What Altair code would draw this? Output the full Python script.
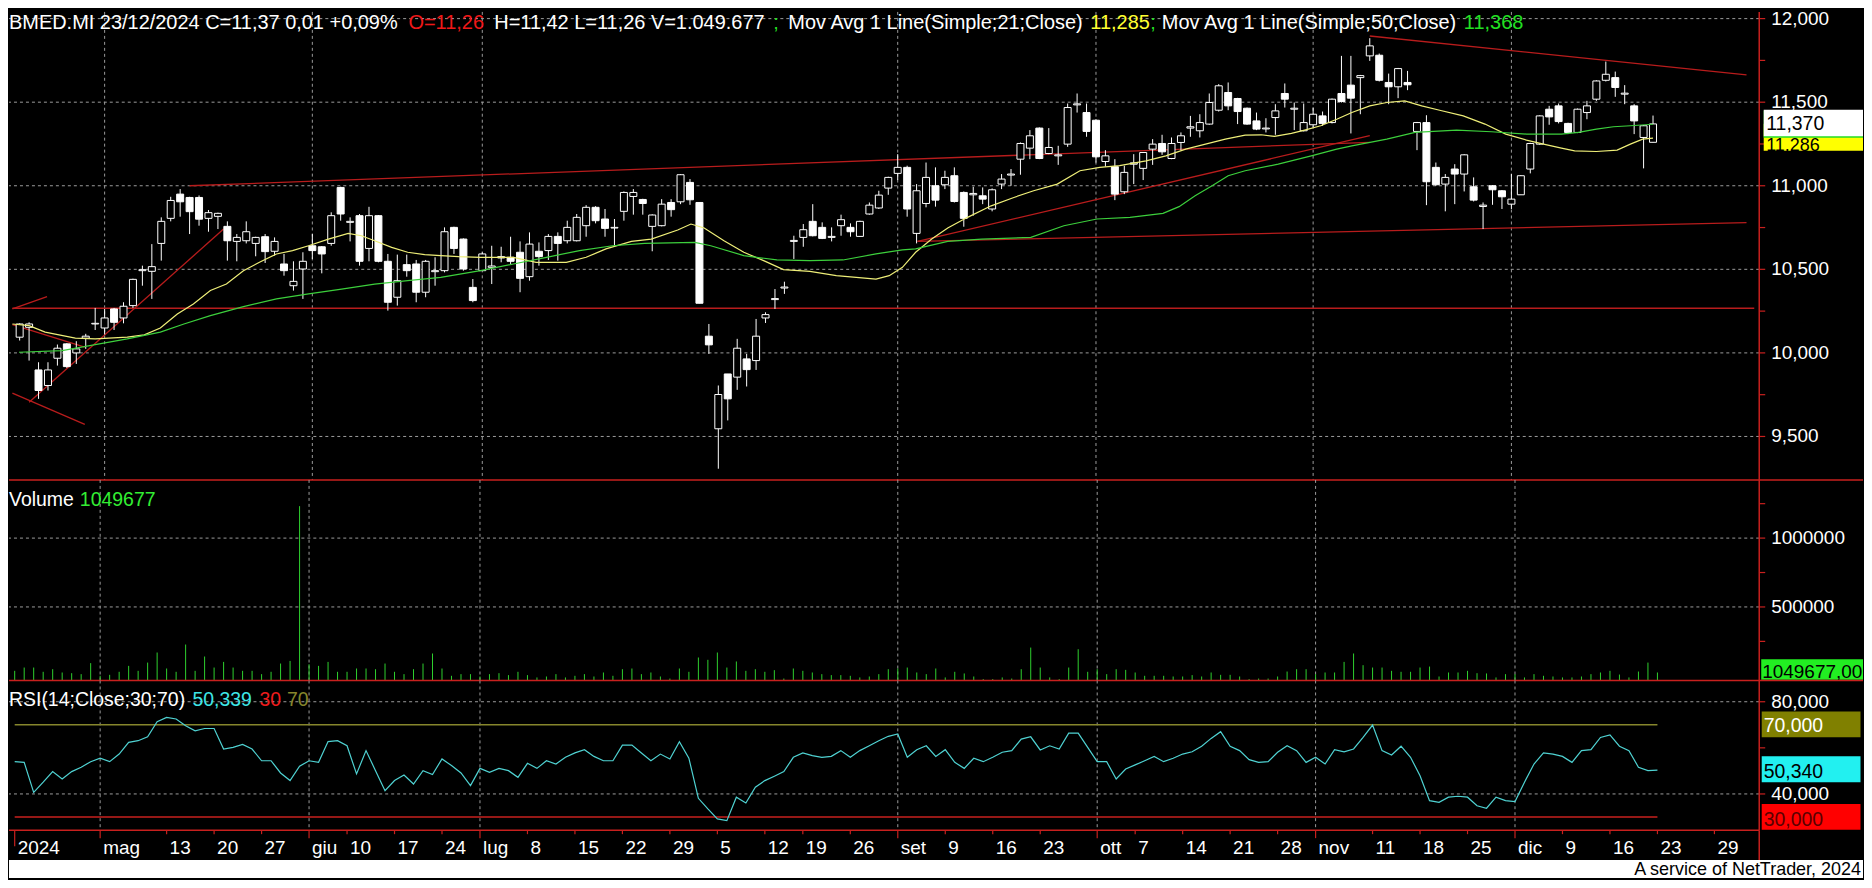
import altair as alt
import pandas as pd

# ---------------- data ----------------
opens = [10.094, 10.153, 9.898, 9.805, 9.968, 10.054, 10.0, 10.088, 10.173, 10.149,
         10.263, 10.209, 10.283, 10.492, 10.488, 10.655, 10.805, 10.95, 10.93, 10.93,
         10.805, 10.817, 10.757, 10.667, 10.671, 10.655, 10.695, 10.608, 10.532, 10.402,
         10.502, 10.641, 10.635, 10.655, 10.99, 10.781, 10.821, 10.625, 10.821, 10.548,
         10.333, 10.528, 10.532, 10.363, 10.486, 10.492, 10.751, 10.681, 10.392, 10.492,
         10.512, 10.568, 10.572, 10.602, 10.456, 10.608, 10.612, 10.697, 10.671, 10.671,
         10.761, 10.871, 10.801, 10.747, 10.847, 10.936, 10.918, 10.757, 10.761, 10.90,
         10.904, 11.02, 10.90, 10.10, 9.546, 9.874, 9.855, 9.964, 9.954, 10.209,
         10.319, 10.388, 10.667, 10.691, 10.787, 10.751, 10.691, 10.761, 10.751, 10.697,
         10.831, 10.867, 10.986, 11.074, 11.11, 10.715, 10.894, 11.0, 11.006, 11.06,
         10.96, 10.946, 10.94, 10.861, 11.01, 11.064, 11.159, 11.225, 11.345, 11.193,
         11.179, 11.249, 11.484, 11.438, 11.392, 11.145, 11.114, 10.964, 11.129, 11.104,
         11.219, 11.253, 11.163, 11.259, 11.345, 11.329, 11.369, 11.452, 11.558, 11.522,
         11.464, 11.388, 11.34, 11.408, 11.552, 11.458, 11.329, 11.365, 11.418, 11.378,
         11.552, 11.602, 11.647, 11.777, 11.781, 11.618, 11.592, 11.618, 11.325, 11.378,
         11.11, 11.01, 11.10, 11.07, 10.994, 10.876, 11.0, 10.97, 10.89, 10.946,
         11.10, 11.249, 11.458, 11.478, 11.373, 11.319, 11.438, 11.518, 11.631, 11.647,
         11.548, 11.478, 11.289, 11.26]
highs = [10.177, 10.183, 9.944, 9.944, 10.05, 10.058, 10.07, 10.114, 10.269, 10.263,
         10.269, 10.303, 10.444, 10.522, 10.651, 10.811, 10.934, 10.98, 10.934, 10.942,
         10.855, 10.839, 10.787, 10.711, 10.787, 10.695, 10.711, 10.691, 10.592, 10.548,
         10.602, 10.711, 10.639, 10.841, 10.994, 10.811, 10.831, 10.874, 10.825, 10.592,
         10.588, 10.588, 10.556, 10.556, 10.572, 10.751, 10.755, 10.685, 10.442, 10.602,
         10.641, 10.635, 10.695, 10.667, 10.721, 10.661, 10.711, 10.721, 10.791, 10.831,
         10.884, 10.878, 10.861, 10.801, 10.966, 10.98, 10.922, 10.829, 10.92, 10.92,
         11.07, 11.04, 10.90, 10.173, 9.805, 9.874, 10.084, 9.994, 10.203, 10.243,
         10.382, 10.426, 10.701, 10.771, 10.89, 10.781, 10.751, 10.827, 10.775, 10.791,
         10.90, 10.97, 11.054, 11.189, 11.12, 11.01, 11.139, 11.11, 11.09, 11.11,
         10.966, 10.994, 10.99, 10.984, 11.07, 11.10, 11.259, 11.333, 11.349, 11.345,
         11.239, 11.492, 11.552, 11.492, 11.398, 11.213, 11.159, 11.12, 11.189, 11.199,
         11.279, 11.305, 11.289, 11.319, 11.418, 11.428, 11.552, 11.608, 11.618, 11.526,
         11.468, 11.438, 11.404, 11.488, 11.612, 11.498, 11.492, 11.468, 11.444, 11.522,
         11.777, 11.777, 11.663, 11.883, 11.791, 11.671, 11.705, 11.687, 11.382, 11.422,
         11.139, 11.07, 11.129, 11.189, 11.05, 10.90, 11.004, 10.974, 11.07, 11.064,
         11.257, 11.422, 11.478, 11.492, 11.377, 11.462, 11.508, 11.631, 11.743, 11.683,
         11.602, 11.488, 11.363, 11.42]
lows = [10.074, 9.954, 9.725, 9.775, 9.924, 9.910, 9.934, 10.024, 10.137, 10.11,
        10.137, 10.177, 10.269, 10.402, 10.323, 10.552, 10.787, 10.815, 10.711, 10.761,
        10.725, 10.741, 10.552, 10.548, 10.655, 10.578, 10.538, 10.582, 10.462, 10.373,
        10.323, 10.562, 10.476, 10.641, 10.791, 10.667, 10.522, 10.548, 10.542, 10.253,
        10.283, 10.456, 10.303, 10.333, 10.402, 10.482, 10.592, 10.492, 10.303, 10.492,
        10.412, 10.542, 10.532, 10.363, 10.432, 10.522, 10.556, 10.552, 10.655, 10.667,
        10.695, 10.775, 10.695, 10.641, 10.791, 10.827, 10.827, 10.608, 10.757, 10.815,
        10.89, 10.886, 10.297, 9.994, 9.307, 9.596, 9.779, 9.799, 9.898, 10.179,
        10.263, 10.353, 10.562, 10.635, 10.697, 10.681, 10.667, 10.701, 10.695, 10.695,
        10.827, 10.861, 10.946, 11.034, 10.815, 10.655, 10.871, 10.875, 10.98, 10.90,
        10.755, 10.821, 10.89, 10.847, 10.98, 11.0, 11.066, 11.159, 11.159, 11.189,
        11.125, 11.233, 11.438, 11.293, 11.139, 11.114, 10.914, 10.95, 11.01, 11.034,
        11.125, 11.185, 11.159, 11.213, 11.293, 11.289, 11.365, 11.444, 11.452, 11.369,
        11.365, 11.333, 11.319, 11.305, 11.468, 11.333, 11.325, 11.349, 11.359, 11.373,
        11.498, 11.313, 11.428, 11.747, 11.624, 11.488, 11.524, 11.572, 11.213, 10.884,
        11.0, 10.847, 10.89, 10.966, 10.906, 10.741, 10.886, 10.861, 10.861, 10.946,
        11.074, 11.245, 11.365, 11.373, 11.309, 11.315, 11.398, 11.508, 11.624, 11.532,
        11.488, 11.309, 11.104, 11.26]
closes = [10.173, 10.173, 9.775, 9.898, 10.028, 9.918, 10.024, 10.10, 10.177, 10.209,
          10.183, 10.279, 10.44, 10.498, 10.516, 10.787, 10.912, 10.904, 10.845, 10.80,
          10.839, 10.835, 10.671, 10.691, 10.725, 10.691, 10.606, 10.667, 10.492, 10.428,
          10.548, 10.612, 10.592, 10.821, 10.831, 10.787, 10.548, 10.821, 10.548, 10.303,
          10.432, 10.492, 10.363, 10.548, 10.492, 10.725, 10.625, 10.502, 10.313, 10.592,
          10.52, 10.576, 10.548, 10.446, 10.651, 10.576, 10.697, 10.655, 10.751, 10.811,
          10.871, 10.791, 10.745, 10.751, 10.96, 10.96, 10.894, 10.825, 10.89, 10.857,
          11.066, 10.916, 10.297, 10.048, 9.751, 9.725, 10.028, 9.90, 10.10, 10.229,
          10.325, 10.394, 10.673, 10.737, 10.701, 10.685, 10.697, 10.797, 10.725, 10.787,
          10.884, 10.944, 11.05, 11.11, 10.861, 10.97, 11.05, 10.914, 11.05, 10.906,
          10.805, 10.954, 10.92, 10.976, 11.04, 11.07, 11.253, 11.299, 11.163, 11.229,
          11.185, 11.468, 11.49, 11.325, 11.173, 11.179, 10.95, 11.08, 11.137, 11.199,
          11.249, 11.203, 11.253, 11.299, 11.353, 11.378, 11.498, 11.598, 11.478, 11.444,
          11.369, 11.339, 11.345, 11.448, 11.518, 11.464, 11.378, 11.428, 11.373, 11.518,
          11.504, 11.524, 11.659, 11.837, 11.631, 11.592, 11.701, 11.604, 11.378, 11.024,
          11.006, 11.05, 11.07, 11.185, 10.914, 10.884, 10.976, 10.934, 10.92, 11.06,
          11.253, 11.418, 11.412, 11.384, 11.319, 11.458, 11.478, 11.627, 11.667, 11.588,
          11.554, 11.388, 11.359, 11.37]
# volume as read on the drawn volume axis (thousands)
volumes_k = [36, 60, 60, 29, 48, 24, 19, 12, 92, 0,
             7, 29, 72, 36, 96, 169, 53, 29, 227, 36,
             140, 60, 101, 60, 36, 36, 12, 29, 89, 108,
             1232, 84, 72, 101, 29, 29, 53, 53, 48, 89,
             29, 12, 48, 89, 162, 53, 0, 12, 12, -5,
             12, 19, 5, 29, 5, -12, -5, 12, -12, 0,
             12, -5, 24, 0, 48, 53, 12, 24, -5, -20,
             53, 29, 133, 116, 169, 60, 104, 36, 48, 29,
             41, -20, 53, 36, 24, 12, 5, 5, 0, -12,
             -5, 12, 48, 53, 60, 24, 12, 53, -12, 29,
             17, -5, -24, -24, -12, -20, 48, 205, 60, -12,
             -24, 60, 193, 29, 48, 12, 48, 43, 24, 0,
             0, 0, -5, -5, 5, -5, 24, 7, 7, -5,
             -24, -20, -20, -5, 31, 48, 48, 12, 24, 24,
             101, 162, 77, 60, 60, 36, 29, 29, 60, 67,
             -5, 24, 24, 36, 19, 17, -12, 12, 12, -12,
             12, 0, -5, -12, -12, -5, 12, 24, 36, 9,
             -12, 31, 96, 24]
rsi_values = [54.0, 53.7, 40.7, 45.1, 49.7, 46.5, 49.7, 51.6, 54.0, 55.5,
              54.0, 57.3, 62.4, 63.1, 64.8, 71.3, 73.2, 72.5, 69.6, 67.4,
              68.4, 68.4, 59.5, 60.2, 61.5, 59.5, 54.4, 54.4, 49.1, 45.8,
              52.0, 54.4, 53.7, 62.7, 63.1, 60.9, 48.7, 58.8, 50.1, 41.4,
              45.8, 48.2, 44.3, 50.1, 48.4, 55.2, 52.3, 49.1, 43.6, 51.1,
              49.4, 51.1, 50.1, 47.2, 53.3, 51.1, 54.4, 53.0, 55.9, 57.8,
              59.2, 56.3, 54.4, 54.4, 61.2, 61.2, 57.8, 54.4, 57.3, 55.2,
              62.7, 55.5, 38.1, 33.5, 29.2, 28.4, 38.6, 36.1, 42.9, 45.8,
              47.7, 49.7, 55.9, 57.8, 56.6, 55.9, 56.3, 58.8, 55.9, 58.8,
              60.9, 63.1, 65.0, 66.0, 55.9, 59.2, 60.9, 56.3, 59.2, 53.7,
              51.1, 55.5, 54.0, 55.9, 58.1, 58.8, 63.8, 64.8, 59.1, 60.9,
              59.5, 66.4, 66.4, 60.2, 54.0, 54.0, 46.5, 50.8, 52.6, 54.4,
              56.3, 54.0, 55.5, 57.3, 58.3, 60.7, 64.1, 67.0, 60.7, 58.8,
              54.9, 53.7, 54.0, 58.1, 60.9, 58.8, 53.7, 55.9, 53.0, 59.2,
              58.3, 59.5, 64.5, 69.9, 58.8, 56.9, 60.7, 55.9, 47.9, 37.1,
              36.4, 38.6, 39.0, 38.6, 34.9, 33.8, 38.6, 37.1, 36.7, 45.1,
              53.0, 57.8, 57.3, 56.3, 53.7, 58.8, 59.2, 64.5, 65.6, 60.7,
              58.8, 51.6, 50.1, 50.3]

ma21_idx = [-0.77, 1.0, 2.7, 5.9, 8.0, 11.4, 13.2, 14.9, 16.7, 18.4, 20.2, 21.9, 23.7, 25.4,
            27.2, 28.9, 30.6, 32.7, 34.8, 36.2, 37.6, 39.4, 41.1, 42.9, 44.6, 46.5, 48.8,
            52.3, 54.7, 57.9, 60.0, 62.1, 64.8, 66.9, 69.7, 71.1, 72.5, 74.6, 76.7, 78.8,
            80.9, 83.7, 86.5, 90.7, 92.1, 93.5, 94.9, 96.6, 98.3, 100.4, 102.9, 105.3, 107.4,
            109.9, 112.3, 114.4, 116.5, 119.3, 121.4, 123.5, 125.6, 127.7, 129.8, 131.5,
            132.9, 134.7, 136.1, 137.8, 139.5, 141.1, 143.0, 144.8, 146.7, 148.5, 150.4,
            152.9, 155.2, 157.4, 159.6, 161.4, 163.3, 164.7, 167.0, 169.2, 170.6, 171.9, 173.0]
ma21_val = [10.173, 10.163, 10.124, 10.088, 10.084, 10.094, 10.108, 10.149, 10.233, 10.293,
            10.373, 10.412, 10.492, 10.542, 10.592, 10.612, 10.641, 10.681, 10.715, 10.701,
            10.671, 10.631, 10.602, 10.588, 10.582, 10.576, 10.572, 10.572, 10.542, 10.542,
            10.572, 10.622, 10.667, 10.681, 10.735, 10.771, 10.747, 10.671, 10.602, 10.552,
            10.498, 10.488, 10.462, 10.442, 10.462, 10.512, 10.602, 10.681, 10.747, 10.811,
            10.88, 10.93, 10.97, 11.01, 11.09, 11.11, 11.12, 11.149, 11.179, 11.219,
            11.249, 11.279, 11.303, 11.305, 11.295, 11.313, 11.333, 11.359, 11.398, 11.438,
            11.478, 11.498, 11.508, 11.478, 11.452, 11.418, 11.369, 11.309, 11.273, 11.249,
            11.225, 11.209, 11.205, 11.213, 11.249, 11.279, 11.285]
ma50_idx = [-0.07, 4.5, 8.0, 11.4, 14.9, 17.4, 20.2, 23.7, 27.2, 30.6, 34.1, 37.6, 41.1, 44.6,
            48.8, 52.3, 55.8, 59.3, 62.8, 66.2, 71.5, 73.2, 76.7, 80.2, 83.7, 87.2, 90.7,
            93.5, 94.9, 98.3, 101.9, 107.1, 110.6, 114.1, 117.6, 121.1, 122.8, 124.5, 126.3,
            128.0, 129.8, 133.3, 136.8, 139.5, 141.1, 144.8, 147.8, 152.2, 155.9, 159.6,
            163.3, 165.1, 167.0, 168.8, 170.6, 173.0]
ma50_val = [10.004, 10.014, 10.05, 10.084, 10.124, 10.173, 10.223, 10.277, 10.323, 10.353,
            10.382, 10.412, 10.432, 10.452, 10.492, 10.532, 10.572, 10.612, 10.641, 10.655,
            10.661, 10.641, 10.582, 10.556, 10.552, 10.556, 10.592, 10.616, 10.622, 10.667,
            10.681, 10.691, 10.761, 10.801, 10.811, 10.835, 10.875, 10.94, 11.0, 11.06,
            11.09, 11.129, 11.179, 11.219, 11.239, 11.279, 11.319, 11.333, 11.323, 11.309,
            11.309, 11.319, 11.339, 11.353, 11.359, 11.368]

# hand-drawn trend lines (bar index, price)
trend_x1 = [18.0, 95.1, 95.1, 143.0, -0.77, -0.77, -0.77, 1.0, -0.77]
trend_y1 = [11.0, 10.667, 10.667, 11.896, 10.263, 9.759, 10.169, 9.705, 10.267]
trend_x2 = [143.0, 143.0, 182.9, 182.9, 2.9, 6.9, 6.9, 21.6, 183.72]
trend_y2 = [11.26, 11.30, 10.78, 11.663, 10.337, 9.572, 10.034, 10.741, 10.267]

month_idx = [9, 31, 49, 93, 114, 137, 158]
tick_idx = [0, 9, 16, 21, 26, 31, 35, 40, 45, 49, 54, 59, 64, 69, 74, 79, 83, 88, 93, 98,
            103, 108, 114, 118, 123, 128, 133, 137, 143, 148, 153, 158, 163, 168, 173, 179]
tick_labels = ["2024", "mag", "13", "20", "27", "giu", "10", "17", "24", "lug", "8", "15",
               "22", "29", "5", "12", "19", "26", "set", "9", "16", "23", "ott", "7", "14",
               "21", "28", "nov", "11", "18", "25", "dic", "9", "16", "23", "29"]
tick_kind = ["year", "month", "week", "week", "week", "month", "week", "week", "week",
             "month", "week", "week", "week", "week", "week", "week", "week", "week",
             "month", "week", "week", "week", "month", "week", "week", "week", "week",
             "month", "week", "week", "week", "month", "week", "week", "week", "week"]

price_grid = [9.5, 10.0, 10.5, 11.0, 11.5, 12.0]
price_grid_labels = ["9,500", "10,000", "10,500", "11,000", "11,500", "12,000"]
price_ticks = [9.5, 9.75, 10.0, 10.25, 10.5, 10.75, 11.0, 11.25, 11.5, 11.75, 12.0]
vol_grid = [500000, 1000000]
vol_grid_labels = ["500000", "1000000"]
vol_ticks = [250000, 500000, 750000, 1000000, 1250000]
rsi_grid = [40, 80]
rsi_grid_labels = ["40,000", "80,000"]
rsi_ticks = [40, 60, 80]
rsi_level_names = ["overbought", "oversold"]
rsi_levels = [70, 30]
rsi_level_from = [0, 0]
rsi_level_to = [173, 173]

# ---------------- styling ----------------
FONT = "Liberation Sans, Arial, Helvetica, sans-serif"
RED = "#c8201e"
TREND = "#b81c1c"
GRID = "#9c9c9c"
OLIVE = "#86862c"
W, H1, H2, H3 = 1754, 469, 201, 150
RIGHT = 1858

xs = alt.Scale(domain=[-0.6, 183.72], nice=False, zero=False)
ps = alt.Scale(domain=[9.24, 12.04], nice=False, zero=False)
vs = alt.Scale(domain=[-34058, 1422464], nice=False, zero=False)
rs = alt.Scale(domain=[24.29, 89.22], nice=False, zero=False)

one = pd.DataFrame({"k": [0]})


def txt(s, x, y, color, size=20, align="left", baseline="alphabetic"):
    return alt.Chart(pd.DataFrame({"t": [s]})).mark_text(
        align=align, baseline=baseline, font=FONT, fontSize=size, color=color
    ).encode(text="t:N", x=alt.value(x), y=alt.value(y))


def box(x1, x2, y1, y2, color):
    return alt.Chart(one).mark_rect(color=color).encode(
        x=alt.value(x1), x2=alt.value(x2), y=alt.value(y1), y2=alt.value(y2))


def hrule_px(y, x1=0, x2=RIGHT, color=RED, w=1.5):
    return alt.Chart(one).mark_rule(color=color, strokeWidth=w).encode(
        x=alt.value(x1), x2=alt.value(x2), y=alt.value(y))


def vgrid():
    return alt.Chart(pd.DataFrame({"m": month_idx})).mark_rule(
        color=GRID, strokeDash=[3, 3], strokeWidth=1
    ).encode(x=alt.X("m:Q", scale=xs, axis=None))


def right_axis(scale, height, grid_vals, grid_labels, tick_vals):
    """horizontal dashed grid, red axis line, red ticks and white labels at the right"""
    g = pd.DataFrame({"v": grid_vals, "lab": grid_labels})
    t = pd.DataFrame({"v": tick_vals})
    grid = alt.Chart(g).mark_rule(color=GRID, strokeDash=[3, 3], strokeWidth=1).encode(
        y=alt.Y("v:Q", scale=scale, axis=None))
    dom = alt.Chart(one).mark_rule(color=RED, strokeWidth=1.5).encode(
        x=alt.value(W), y=alt.value(0), y2=alt.value(height))
    tk = alt.Chart(t).mark_rule(color=RED, strokeWidth=1.2).encode(
        x=alt.value(W), x2=alt.value(W + 6), y=alt.Y("v:Q", scale=scale, axis=None))
    lab = alt.Chart(g).mark_text(align="left", baseline="middle", font=FONT, fontSize=19,
                                 color="#ffffff").encode(
        x=alt.value(W + 12), y=alt.Y("v:Q", scale=scale, axis=None), text="lab:N")
    return [grid, dom, tk, lab]


# ---------------- price panel ----------------
cdf = pd.DataFrame({"idx": list(range(len(opens))), "open": opens, "high": highs,
                    "low": lows, "close": closes})
tdf = pd.DataFrame({"x1": trend_x1, "y1": trend_y1, "x2": trend_x2, "y2": trend_y2})
m21 = pd.DataFrame({"i": ma21_idx, "v": ma21_val})
m50 = pd.DataFrame({"i": ma50_idx, "v": ma50_val})

trends = alt.Chart(tdf).mark_rule(color=TREND, strokeWidth=1.3, clip=True).encode(
    x=alt.X("x1:Q", scale=xs, axis=None), x2="x2:Q",
    y=alt.Y("y1:Q", scale=ps, axis=None), y2="y2:Q")

wicks = alt.Chart(cdf).mark_rule(color="#ffffff", strokeWidth=1).encode(
    x=alt.X("idx:Q", scale=xs, axis=None),
    y=alt.Y("low:Q", scale=ps, axis=None), y2="high:Q")

bodies = alt.Chart(cdf).mark_bar(width=7, stroke="#ffffff", strokeWidth=1, orient="vertical").encode(
    x=alt.X("idx:Q", scale=xs, axis=None),
    y=alt.Y("open:Q", scale=ps, axis=None), y2="close:Q",
    fill=alt.condition("datum.close > datum.open", alt.value("#000000"), alt.value("#ffffff")))

ma21 = alt.Chart(m21).mark_line(color="#eeee78", strokeWidth=1.2, clip=True).encode(
    x=alt.X("i:Q", scale=xs, axis=None), y=alt.Y("v:Q", scale=ps, axis=None))
ma50 = alt.Chart(m50).mark_line(color="#3ccf3c", strokeWidth=1.2, clip=True).encode(
    x=alt.X("i:Q", scale=xs, axis=None), y=alt.Y("v:Q", scale=ps, axis=None))

title_y = 17
titles = [
    txt("BMED.MI 23/12/2024 C=11,37 0,01 +0,09%", 0, title_y, "#ffffff"),
    txt("O=11,26", 400.3, title_y, "#f01818"),
    txt("H=11,42 L=11,26 V=1.049.677", 486.3, title_y, "#ffffff"),
    txt(";", 766, title_y, "#22dd22"),
    txt("Mov Avg 1 Line(Simple;21;Close)", 781, title_y, "#ffffff"),
    txt("11,285", 1083.7, title_y, "#ffff30"),
    txt(";", 1143.7, title_y, "#22dd22"),
    txt("Mov Avg 1 Line(Simple;50;Close)", 1155.3, title_y, "#ffffff"),
    txt("11,368", 1458, title_y, "#22e022"),
]

price_boxes = [
    box(1758.5, RIGHT, 112, 139, "#ffff00"),
    txt("11,286", 1761, 139, "#000000", size=18),
    box(1758.5, RIGHT, 99, 126, "#22dd22"),
    box(1758.5, RIGHT, 98, 124.7, "#ffffff"),
    txt("11,370", 1761, 118.7, "#000000", size=19.5),
]

price = alt.layer(*right_axis(ps, H1, price_grid, price_grid_labels, price_ticks), vgrid(),
                  trends, wicks, bodies, ma21, ma50, *titles, *price_boxes,
                  hrule_px(H1)).properties(width=W, height=H1)

# ---------------- volume panel ----------------
vdf = pd.DataFrame({"idx": list(range(len(volumes_k))), "vol": [v * 1000 for v in volumes_k]})
v_bars = alt.Chart(vdf).mark_rule(color="#2ed02e", strokeWidth=1).encode(
    x=alt.X("idx:Q", scale=xs, axis=None),
    y=alt.Y("vol:Q", scale=vs, axis=None), y2=alt.value(H2))

volume = alt.layer(
    *right_axis(vs, H2, vol_grid, vol_grid_labels, vol_ticks), vgrid(), v_bars,
    txt("Volume", 0, 26.3, "#ffffff", size=19.5),
    txt("1049677", 71, 26.3, "#33ee33", size=19.5),
    box(1756, RIGHT, 179.7, 200.3, "#22ee22"),
    txt("1049677,00", 1757, 199, "#000000", size=19),
    hrule_px(H2),
).properties(width=W, height=H2)

# ---------------- RSI panel ----------------
rdf = pd.DataFrame({"idx": list(range(len(rsi_values))), "rsi": rsi_values})
ldf = pd.DataFrame({"name": rsi_level_names, "level": rsi_levels,
                    "start": rsi_level_from, "end": rsi_level_to})
kdf = pd.DataFrame({"idx": tick_idx, "lab": tick_labels, "kind": tick_kind})

r_levels = alt.Chart(ldf).mark_rule(strokeWidth=1.5).encode(
    x=alt.X("start:Q", scale=xs, axis=None), x2="end:Q",
    y=alt.Y("level:Q", scale=rs, axis=None),
    color=alt.Color("name:N", scale=alt.Scale(domain=rsi_level_names, range=[OLIVE, RED]),
                    legend=None))
r_line = alt.Chart(rdf).mark_line(color="#4fd2d2", strokeWidth=1.2).encode(
    x=alt.X("idx:Q", scale=xs, axis=None), y=alt.Y("rsi:Q", scale=rs, axis=None))


def ticks(kind, length):
    return alt.Chart(kdf).transform_filter(alt.datum.kind == kind).mark_rule(
        color=RED, strokeWidth=1.2
    ).encode(x=alt.X("idx:Q", scale=xs, axis=None), y=alt.value(H3), y2=alt.value(H3 + length))


tick_text = alt.Chart(kdf).mark_text(
    align="left", baseline="alphabetic", dx=3, font=FONT, fontSize=19, color="#ffffff"
).encode(x=alt.X("idx:Q", scale=xs, axis=None), y=alt.value(174), text="lab:N")

rsi = alt.layer(
    *right_axis(rs, H3, rsi_grid, rsi_grid_labels, rsi_ticks), vgrid(), r_levels, r_line,
    txt("RSI(14;Close;30;70)", 0, 26, "#ffffff", size=19.5),
    txt("50,339", 183.8, 26, "#3ee6e6", size=19.5),
    txt("30", 251, 26, "#ee1c1c", size=19.5),
    txt("70", 278.6, 26, OLIVE, size=19.5),
    box(1756.5, 1855.5, 31, 57, "#808000"),
    txt("70,000", 1758.5, 52, "#ffffff", size=19.5),
    box(1756.5, 1855.5, 76, 102, "#22f0f0"),
    txt("50,340", 1758.5, 98, "#000000", size=19.5),
    box(1756.5, 1855.5, 123.7, 149.7, "#ff0000"),
    txt("30,000", 1758.5, 146, "#5a0000", size=19.5),
    hrule_px(H3, 0, W),
    alt.Chart(one).mark_rule(color=RED, strokeWidth=1.5).encode(
        x=alt.value(W), y=alt.value(H3), y2=alt.value(180)),
    ticks("week", 4), ticks("month", 8), ticks("year", 16),
    tick_text,
    box(0, RIGHT, 180, 198, "#ffffff"),
    txt("A service of NetTrader, 2024", RIGHT - 2, 195, "#000000", size=18, align="right"),
).properties(width=W, height=H3)

chart = alt.vconcat(price, volume, rsi, spacing=0, bounds="flush").properties(
    background="#000000", padding=0
).configure_view(strokeWidth=0)

chart.save("out.html", embed_options={"renderer": "svg", "actions": False})
